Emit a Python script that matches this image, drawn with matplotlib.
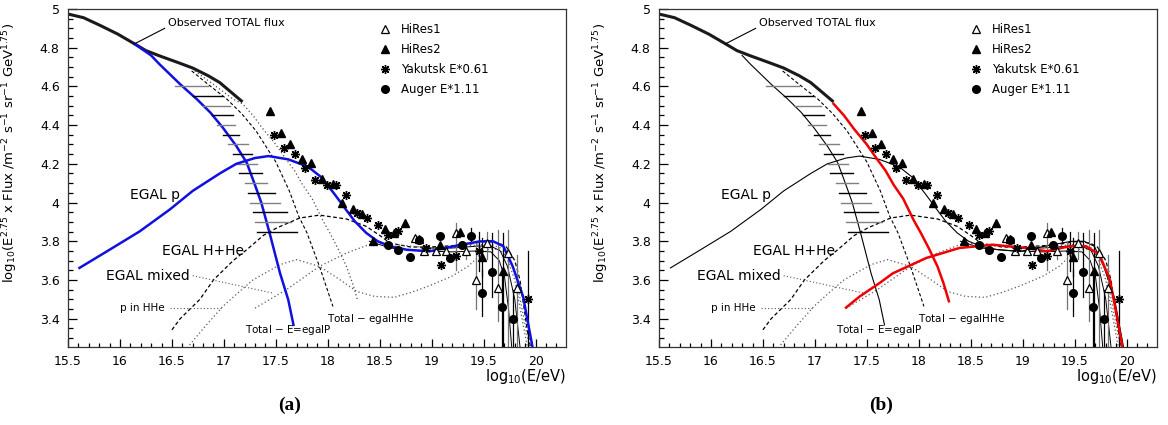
import matplotlib.pyplot as plt
import numpy as np
from matplotlib.ticker import MultipleLocator, FormatStrFormatter

# ---- model curves (log10 E, log10 flux) ----
# observed total flux (thick black)
tot_x = [15.5, 15.65, 15.81, 15.98, 16.14, 16.25, 16.38, 16.55, 16.70, 16.85, 16.96, 17.07, 17.18]
tot_y = [4.974, 4.955, 4.915, 4.87, 4.82, 4.785, 4.758, 4.725, 4.695, 4.655, 4.62, 4.57, 4.52]

# total - E=egalP
tmp_x = [16.14, 16.22, 16.30, 16.38, 16.48, 16.58, 16.74, 16.87, 16.99, 17.12, 17.22, 17.30,
         17.36, 17.44, 17.54, 17.62, 17.67]
tmp_y = [4.82, 4.79, 4.76, 4.715, 4.663, 4.611, 4.534, 4.465, 4.387, 4.292, 4.206, 4.09,
         4.0, 3.843, 3.636, 3.497, 3.368]

# total - egalHHe (dotted in a, red in b)
thh_x = [16.72, 16.90, 17.09, 17.18, 17.28, 17.38, 17.50, 17.60, 17.68, 17.76, 17.85, 17.95,
         18.02, 18.10, 18.18, 18.24, 18.29]
thh_y = [4.68, 4.61, 4.534, 4.51, 4.45, 4.378, 4.30, 4.223, 4.165, 4.09, 4.02, 3.91,
         3.843, 3.76, 3.67, 3.58, 3.49]

# other total subtraction (dashed)
tsd_x = [16.69, 16.85, 17.03, 17.17, 17.31, 17.50, 17.63, 17.72, 17.80, 17.92, 18.05]
tsd_y = [4.68, 4.61, 4.534, 4.46, 4.37, 4.21, 4.06, 3.93, 3.843, 3.67, 3.463]

# EGAL p
egp_x = [15.61, 15.90, 16.19, 16.48, 16.70, 16.96, 17.12, 17.30, 17.43, 17.62, 17.81, 17.94,
         18.07, 18.18, 18.26, 18.37, 18.48, 18.60, 18.76, 18.98, 19.21, 19.46, 19.59, 19.69,
         19.78, 19.88, 19.97]
egp_y = [3.662, 3.756, 3.851, 3.964, 4.06, 4.15, 4.20, 4.23, 4.24, 4.223, 4.185, 4.13,
         4.04, 3.96, 3.903, 3.843, 3.80, 3.774, 3.756, 3.748, 3.774, 3.799, 3.80, 3.774,
         3.67, 3.514, 3.255]

# EGAL H+He (dashed)
hhe_x = [16.50, 16.58, 16.77, 16.90, 17.09, 17.22, 17.38, 17.51, 17.73, 17.92, 18.18, 18.37,
         18.50, 18.60, 18.80, 18.98, 19.30, 19.53, 19.65, 19.72, 19.80, 19.85, 19.92, 19.95]
hhe_y = [3.342, 3.40, 3.50, 3.60, 3.70, 3.756, 3.83, 3.869, 3.92, 3.935, 3.915, 3.877,
         3.83, 3.79, 3.77, 3.77, 3.78, 3.80, 3.79, 3.77, 3.70, 3.60, 3.34, 3.255]

# EGAL mixed (dotted)
mix_x = [17.30, 17.60, 17.92, 18.18, 18.44, 18.70, 19.00, 19.30, 19.55, 19.70, 19.80, 19.87, 19.94]
mix_y = [3.454, 3.549, 3.67, 3.739, 3.791, 3.78, 3.765, 3.775, 3.785, 3.76, 3.65, 3.45, 3.255]

# p in HHe (dotted)
phe_x = [16.67, 16.82, 16.99, 17.15, 17.28, 17.54, 17.70, 17.92, 18.12, 18.28, 18.45, 18.64,
         18.80, 18.96, 19.19, 19.35, 19.45, 19.55, 19.65, 19.72, 19.80, 19.87, 19.92]
phe_y = [3.264, 3.36, 3.463, 3.54, 3.60, 3.679, 3.705, 3.67, 3.60, 3.54, 3.515, 3.51,
         3.535, 3.566, 3.618, 3.67, 3.72, 3.76, 3.76, 3.72, 3.60, 3.40, 3.255]

# thin solid totals near the cutoff
ca_x = [18.40, 18.60, 18.90, 19.20, 19.45, 19.57, 19.65, 19.70, 19.74, 19.77]
ca_y = [3.80, 3.765, 3.75, 3.745, 3.75, 3.745, 3.70, 3.62, 3.45, 3.255]
cb_x = [18.90, 19.20, 19.45, 19.57, 19.66, 19.73, 19.80, 19.85]
cb_y = [3.765, 3.765, 3.775, 3.775, 3.75, 3.67, 3.50, 3.255]

# red EGAL curve in panel b
red_x = [17.30, 17.43, 17.62, 17.75, 18.07, 18.39, 18.71, 19.04, 19.23, 19.45, 19.61, 19.74,
         19.84, 19.90, 19.96]
red_y = [3.457, 3.514, 3.583, 3.634, 3.713, 3.765, 3.782, 3.765, 3.748, 3.774, 3.774, 3.73,
         3.60, 3.43, 3.255]

# horizontal band (log flux, left end, right end)
band_y = [4.60, 4.55, 4.50, 4.45, 4.40, 4.35, 4.30, 4.25, 4.20, 4.15, 4.10, 4.05, 4.00, 3.95, 3.90, 3.85]
band_l = [16.53, 16.70, 16.80, 16.89, 16.93, 16.99, 17.04, 17.09, 17.13, 17.15, 17.20, 17.23, 17.25, 17.28, 17.30, 17.32]
band_r = [16.85, 16.98, 17.06, 17.09, 17.11, 17.15, 17.23, 17.27, 17.32, 17.37, 17.42, 17.49, 17.54, 17.61, 17.65, 17.70]

# ---- data points ----
hr1_x = [18.84, 18.93, 19.04, 19.14, 19.23, 19.33, 19.43, 19.53, 19.64, 19.73, 19.82]
hr1_y = [3.817, 3.748, 3.748, 3.751, 3.843, 3.748, 3.60, 3.79, 3.558, 3.739, 3.558]
hr1_lo = [0, 0, 0, 0, 0.19, 0.04, 0.15, 0.08, 0.17, 0.6, 0.6]
hr1_hi = [0, 0, 0, 0, 0.05, 0.03, 0.2, 0.06, 0.3, 0.12, 0.17]

hr2_x = [17.44, 17.55, 17.64, 17.75, 17.84, 17.94, 18.05, 18.14, 18.24, 18.33, 18.44, 18.55,
         18.64, 18.74, 18.88, 19.08, 19.27, 19.48, 19.69]
hr2_y = [4.473, 4.357, 4.30, 4.223, 4.202, 4.119, 4.097, 4.0, 3.964, 3.941, 3.80, 3.864,
         3.84, 3.895, 3.81, 3.78, 3.846, 3.718, 3.644]
hr2_lo = [0] * 17 + [0.1, 0.5]
hr2_hi = [0] * 17 + [0.1, 0.2]

yak_x = [17.48, 17.58, 17.68, 17.78, 17.88, 17.99, 18.08, 18.18, 18.28, 18.38, 18.48, 18.58,
         18.68, 18.95, 19.09, 19.23, 19.46, 19.93]
yak_y = [4.347, 4.283, 4.249, 4.18, 4.114, 4.09, 4.093, 4.041, 3.947, 3.92, 3.886, 3.834,
         3.851, 3.765, 3.679, 3.725, 3.748, 3.50]
yak_lo = [0] * 16 + [0.1, 0.5]
yak_hi = [0] * 16 + [0.1, 0.25]

aug_x = [18.58, 18.68, 18.79, 18.88, 19.08, 19.18, 19.29, 19.38, 19.48, 19.58, 19.68, 19.78]
aug_y = [3.782, 3.753, 3.72, 3.808, 3.829, 3.713, 3.782, 3.829, 3.532, 3.64, 3.46, 3.397]
aug_lo = [0, 0, 0, 0, 0, 0, 0, 0.04, 0.12, 0.13, 0.3, 0.3]
aug_hi = [0, 0, 0, 0, 0, 0, 0, 0.04, 0.12, 0.2, 0.2, 0.15]

star = (8, 2, 0)


def panel(ax, which):
    ax.set_xlim(15.5, 20.29)
    ax.set_ylim(3.255, 5.0)

    ax.plot(tot_x, tot_y, color='#1a1a1a', lw=2.2, solid_capstyle='butt')
    ax.plot(tsd_x, tsd_y, color='k', lw=0.8, dashes=(3, 2))
    ax.plot(hhe_x, hhe_y, color='k', lw=0.9, dashes=(3, 2))
    ax.plot(mix_x, mix_y, color='0.35', lw=0.9, dashes=(1, 2))
    ax.plot(phe_x, phe_y, color='0.35', lw=0.9, dashes=(1, 2))
    ax.plot(ca_x, ca_y, color='k', lw=0.7)
    ax.plot(cb_x, cb_y, color='k', lw=0.7)

    if which == 'a':
        ax.plot(thh_x, thh_y, color='0.3', lw=0.9, dashes=(1, 2))
        ax.plot(tmp_x, tmp_y, color='#1010e0', lw=1.8)
        ax.plot(egp_x, egp_y, color='#1010e0', lw=1.8, zorder=4)
    else:
        tx = np.array(tmp_x)
        ax.plot(tx[tx >= 16.3], np.array(tmp_y)[tx >= 16.3], color='k', lw=0.8)
        ax.plot(egp_x, egp_y, color='k', lw=0.8)
        hx = np.array(thh_x)
        ax.plot(hx[hx >= 17.18], np.array(thh_y)[hx >= 17.18], color='#f00000', lw=1.8, zorder=4)
        ax.plot(red_x, red_y, color='#f00000', lw=1.8, zorder=4)

    for i, (yb, xl, xr) in enumerate(zip(band_y, band_l, band_r)):
        ax.plot([xl, xr], [yb, yb], color='0.5' if i % 2 == 0 else 'k', lw=1.0)

    # error bars
    for xs, ys, lo, hi, c in [(hr1_x, hr1_y, hr1_lo, hr1_hi, '0.45'), (hr2_x, hr2_y, hr2_lo, hr2_hi, 'k'),
                              (yak_x, yak_y, yak_lo, yak_hi, 'k'), (aug_x, aug_y, aug_lo, aug_hi, 'k')]:
        for x, y, l, h in zip(xs, ys, lo, hi):
            if l > 0 or h > 0:
                ax.plot([x, x], [y - l, y + h], color=c, lw=0.9)

    h1, = ax.plot(hr1_x, hr1_y, ls='none', marker='^', ms=5.5, mfc='white', mec='k', mew=0.9, label='HiRes1', zorder=5)
    h2, = ax.plot(hr2_x, hr2_y, ls='none', marker='^', ms=5.5, color='k', label='HiRes2', zorder=5)
    h3, = ax.plot(yak_x, yak_y, ls='none', marker=star, ms=6.5, color='k', mew=1.0, label='Yakutsk E*0.61', zorder=5)
    h4, = ax.plot(aug_x, aug_y, ls='none', marker='o', ms=5.5, color='k', label='Auger E*1.11', zorder=5)
    ax.legend(handles=[h1, h2, h3, h4], loc='upper left', bbox_to_anchor=(0.615, 0.972), frameon=False,
              fontsize=8.5, handlelength=1.0, handletextpad=0.9, labelspacing=0.6, borderaxespad=0)

    # labels
    ax.text(16.46, 4.93, 'Observed TOTAL flux', fontsize=8, va='center')
    ax.plot([16.43, 16.14], [4.90, 4.82], color='k', lw=0.8)
    ax.text(16.10, 4.04, 'EGAL p', fontsize=10, va='center')
    ax.text(16.40, 3.748, 'EGAL H+He', fontsize=10, va='center')
    ax.text(15.87, 3.62, 'EGAL mixed', fontsize=10, va='center')
    ax.plot([16.70, 17.47], [3.622, 3.532], color='0.35', lw=0.8, dashes=(1, 2))
    ax.text(16.0, 3.454, 'p in HHe', fontsize=7.5, va='center')
    ax.plot([16.48, 16.99], [3.454, 3.454], color='0.35', lw=0.8, dashes=(1, 2))
    ax.text(17.20, 3.342, 'Total $-$ E=egalP', fontsize=7.5, va='center')
    ax.text(17.99, 3.40, 'Total $-$ egalHHe', fontsize=7.5, va='center')

    ax.xaxis.set_major_locator(MultipleLocator(0.5))
    ax.xaxis.set_minor_locator(MultipleLocator(0.1))
    ax.yaxis.set_major_locator(MultipleLocator(0.2))
    ax.yaxis.set_minor_locator(MultipleLocator(0.05))
    ax.xaxis.set_major_formatter(FormatStrFormatter('%g'))
    ax.yaxis.set_major_formatter(FormatStrFormatter('%g'))
    ax.tick_params(which='both', direction='in', top=False, right=False, labelsize=9, width=0.9)
    ax.tick_params(axis='x', which='major', length=6, pad=6)
    ax.tick_params(axis='x', which='minor', length=3)
    ax.tick_params(axis='y', which='major', length=6.5, pad=6)
    ax.tick_params(axis='y', which='minor', length=3.5)
    for s in ax.spines.values():
        s.set_linewidth(0.9)
        s.set_color('#333333')

    ax.set_ylabel(r'log$_{10}$(E$^{2.75}$ x Flux /m$^{-2}$ s$^{-1}$ sr$^{-1}$ GeV$^{1.75}$)', fontsize=9.5)
    ax.yaxis.set_label_coords(-0.096, 0.574)
    ax.set_xlabel(r'log$_{10}$(E/eV)', fontsize=10.5, ha='right')
    ax.xaxis.set_label_coords(1.0, -0.06)


plt.rcParams['mathtext.fontset'] = 'dejavusans'
fig = plt.figure(figsize=(11.68, 4.25), dpi=100)
ax1 = fig.add_axes([68 / 1168, 78.3 / 425, 497.7 / 1168, 337.7 / 425])
ax2 = fig.add_axes([659 / 1168, 78.3 / 425, 497.7 / 1168, 337.7 / 425])
panel(ax1, 'a')
panel(ax2, 'b')
fig.text(290 / 1168, 1 - 405 / 425, '(a)', ha='center', va='center', fontsize=14,
         fontweight='bold', family='Liberation Serif')
fig.text(881 / 1168, 1 - 405 / 425, '(b)', ha='center', va='center', fontsize=14,
         fontweight='bold', family='Liberation Serif')
fig.savefig('out.png', dpi=100)
